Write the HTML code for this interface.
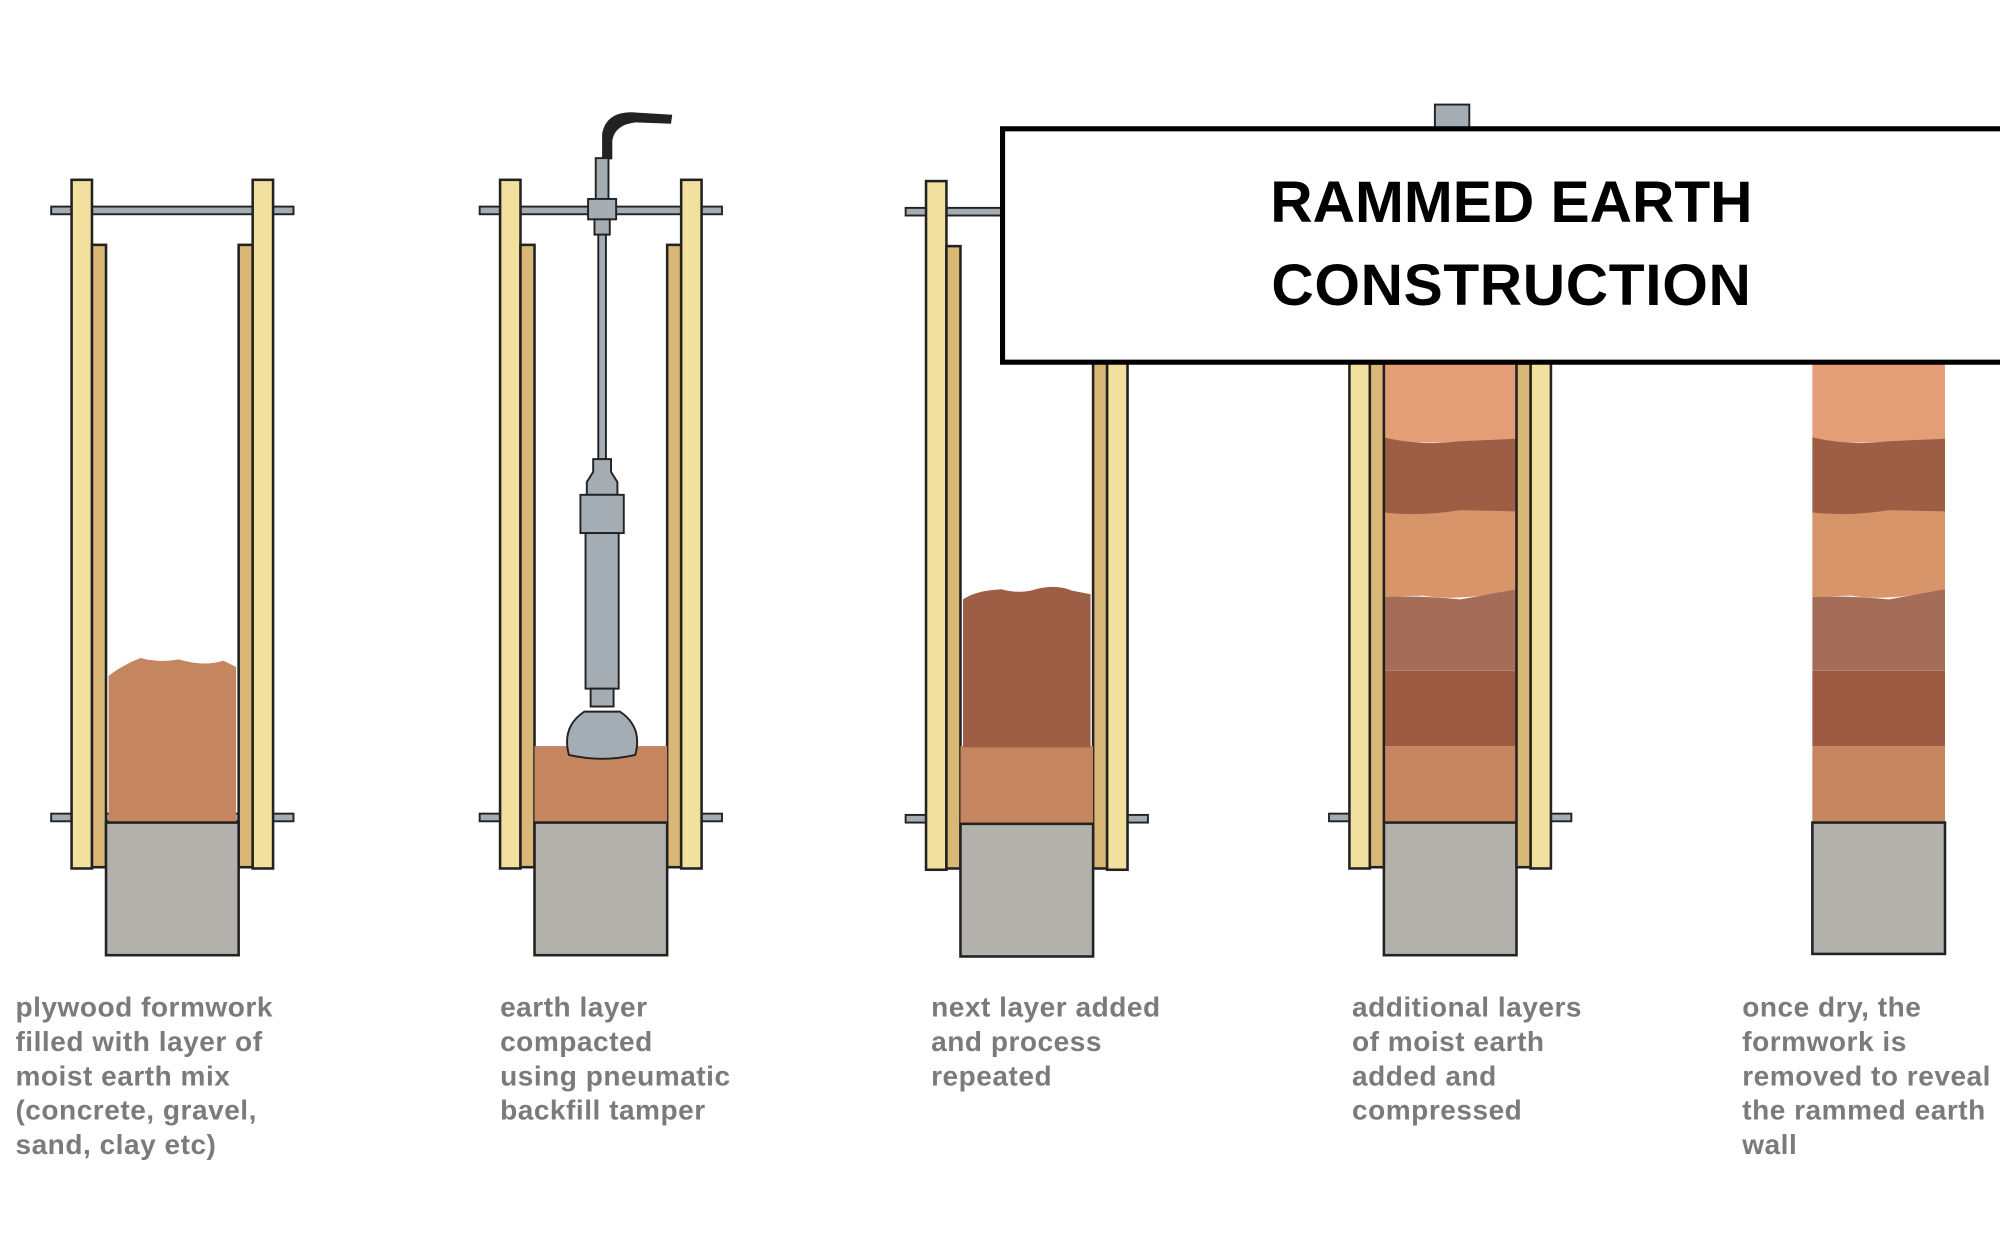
<!DOCTYPE html>
<html><head><meta charset="utf-8"><style>
html,body{margin:0;padding:0;background:#fff;}
svg{display:block;}
text{font-family:"Liberation Sans",sans-serif;}
.cap{font-size:22px;font-weight:bold;fill:#7b7b7b;letter-spacing:0.4px;}
</style></head><body>
<svg width="2000" height="1260" viewBox="0 0 1568 988" xmlns="http://www.w3.org/2000/svg">
<defs>
<g id="form">
  <rect x="40" y="162" width="190" height="6" fill="#a4adb4" stroke="#222" stroke-width="1.5"/>
  <rect x="40" y="638" width="190" height="6" fill="#a4adb4" stroke="#222" stroke-width="1.5"/>
  <rect x="56" y="141" width="16" height="540" fill="#f2e09e" stroke="#222" stroke-width="2"/>
  <rect x="72" y="192" width="11" height="488" fill="#d9b877" stroke="#222" stroke-width="2"/>
  <rect x="187" y="192" width="11" height="488" fill="#d9b877" stroke="#222" stroke-width="2"/>
  <rect x="198" y="141" width="16" height="540" fill="#f2e09e" stroke="#222" stroke-width="2"/>
</g>
<g id="layers">
  <rect x="0" y="285" width="104" height="62" fill="#e39e78"/>
  <path d="M0 343 Q30 350 60 346 L104 344 L104 402 Q60 400 30 405 L0 402Z" fill="#9e5e45"/>
  <path d="M0 402 Q30 405 60 400 L104 401 L104 462 Q60 472 30 467 L0 468Z" fill="#d9956a"/>
  <path d="M0 468 Q30 467 60 470 L104 462 L104 526 L0 526Z" fill="#a56c57"/>
  <rect x="0" y="526" width="104" height="59" fill="#9e5a43"/>
  <rect x="0" y="585" width="104" height="60" fill="#c4855f"/>
</g>
</defs>

<use href="#form"/>
<path d="M85 645 L85 530 Q95 522 110 516 Q125 520 140 517 Q160 523 175 518 L185 523 L185 645Z" fill="#c4855f"/>
<rect x="83" y="645" width="104" height="104" fill="#b2b1ac" stroke="#222" stroke-width="2"/>

<use href="#form" transform="translate(336,0)"/>
<rect x="419" y="585" width="104" height="60" fill="#c4855f"/>
<rect x="419" y="645" width="104" height="104" fill="#b2b1ac" stroke="#222" stroke-width="2"/>
<path d="M472 125 L472 105 Q475 88 495 88 L527 90 L526 97 L498 96 Q482 98 480 110 L480 125Z" fill="#222"/>
<rect x="467" y="124" width="10" height="32" fill="#a4adb4" stroke="#222" stroke-width="1.5"/>
<rect x="461" y="156" width="22" height="16" fill="#a4adb4" stroke="#222" stroke-width="1.5"/>
<rect x="466" y="172" width="12" height="12" fill="#a4adb4" stroke="#222" stroke-width="1.5"/>
<rect x="469" y="184" width="6" height="176" fill="#a4adb4" stroke="#222" stroke-width="1.5"/>
<path d="M465 360 L479 360 L479 370 L484 378 L484 388 L460 388 L460 378 L465 370Z" fill="#a4adb4" stroke="#222" stroke-width="1.5"/>
<rect x="455" y="388" width="34" height="30" fill="#a4adb4" stroke="#222" stroke-width="1.5"/>
<rect x="459" y="418" width="26" height="122" fill="#a4adb4" stroke="#222" stroke-width="1.5"/>
<rect x="463" y="540" width="18" height="14" fill="#a4adb4" stroke="#222" stroke-width="1.5"/>
<path d="M446 592 Q440 570 458 558 L486 558 Q504 570 498 592 Q472 598 446 592Z" fill="#a4adb4" stroke="#222" stroke-width="1.5"/>

<use href="#form" transform="translate(670,1)"/>
<rect x="753" y="585" width="104" height="61" fill="#c4855f"/>
<path d="M755 586 L755 470 Q765 463 785 462 Q800 466 812 462 Q828 458 840 463 L855 466 L855 586Z" fill="#9e5e45"/>
<rect x="753" y="646" width="104" height="104" fill="#b2b1ac" stroke="#222" stroke-width="2"/>

<rect x="1125" y="82" width="27" height="20" fill="#a4adb4" stroke="#222" stroke-width="1.5"/>
<use href="#form" transform="translate(1002,0)"/>
<use href="#layers" transform="translate(1085,0)"/>
<rect x="1085" y="645" width="104" height="104" fill="#b2b1ac" stroke="#222" stroke-width="2"/>
<rect x="1074" y="285" width="11" height="395" fill="#d9b877" stroke="#222" stroke-width="2"/>
<rect x="1189" y="285" width="11" height="395" fill="#d9b877" stroke="#222" stroke-width="2"/>

<use href="#layers" transform="translate(1421,0)"/>
<rect x="1421" y="645" width="104" height="103" fill="#b2b1ac" stroke="#222" stroke-width="2"/>

<rect x="786" y="101" width="800" height="183" fill="#fff" stroke="#000" stroke-width="4"/>
<text x="1185" y="174" text-anchor="middle" font-size="46" font-weight="bold" fill="#000">RAMMED EARTH</text>
<text x="1185" y="239" text-anchor="middle" font-size="46" font-weight="bold" fill="#000" letter-spacing="0.5">CONSTRUCTION</text>

<g class="cap">
<text x="12" y="797">plywood formwork</text>
<text x="12" y="824">filled with layer of</text>
<text x="12" y="851">moist earth mix</text>
<text x="12" y="878">(concrete, gravel,</text>
<text x="12" y="905">sand, clay etc)</text>
<text x="392" y="797">earth layer</text>
<text x="392" y="824">compacted</text>
<text x="392" y="851">using pneumatic</text>
<text x="392" y="878">backfill tamper</text>
<text x="730" y="797">next layer added</text>
<text x="730" y="824">and process</text>
<text x="730" y="851">repeated</text>
<text x="1060" y="797">additional layers</text>
<text x="1060" y="824">of moist earth</text>
<text x="1060" y="851">added and</text>
<text x="1060" y="878">compressed</text>
<text x="1366" y="797">once dry, the</text>
<text x="1366" y="824">formwork is</text>
<text x="1366" y="851">removed to reveal</text>
<text x="1366" y="878">the rammed earth</text>
<text x="1366" y="905">wall</text>
</g>
</svg>
</body></html>
